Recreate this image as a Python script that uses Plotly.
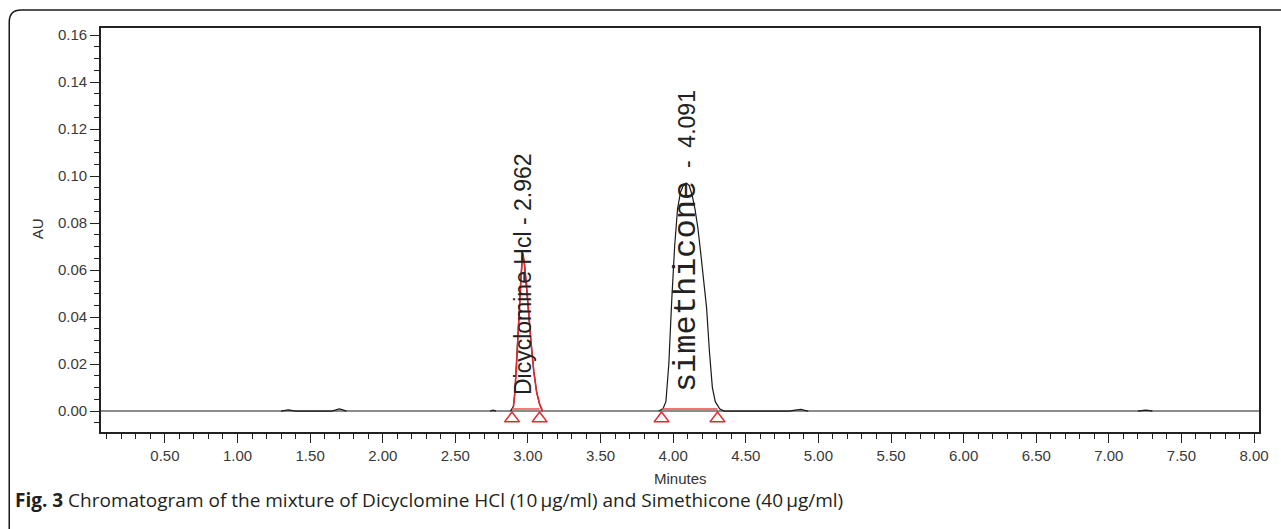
import numpy as np
import plotly.graph_objects as go

# ---------------- data ----------------
time_min = [0.06, 0.50, 1.00, 1.30, 1.33, 1.35, 1.37, 1.40, 1.65, 1.68, 1.70, 1.72, 1.75,
            2.00, 2.50, 2.74, 2.76, 2.78, 2.85,
            2.88, 2.90, 2.91, 2.92, 2.93, 2.94, 2.95, 2.96, 2.965, 2.975, 2.99, 3.00,
            3.02, 3.04, 3.06, 3.08, 3.10,
            3.50, 3.90, 3.93, 3.95, 3.97, 3.99, 4.01, 4.03, 4.05, 4.07, 4.09, 4.11,
            4.13, 4.15, 4.17, 4.19, 4.21, 4.23, 4.25, 4.27, 4.29, 4.32, 4.35,
            4.80, 4.84, 4.86, 4.88, 4.90, 4.93, 5.50, 6.50, 7.20, 7.23, 7.25, 7.27,
            7.30, 8.03]
au = [0.0, 0.0, 0.0, 0.0, 0.0003, 0.0005, 0.0003, 0.0, 0.0, 0.0006, 0.0009, 0.0006, 0.0,
      0.0, 0.0, 0.0, 0.0004, 0.0, 0.0,
      0.0, 0.002, 0.008, 0.018, 0.030, 0.043, 0.056, 0.065, 0.067, 0.063, 0.054, 0.045,
      0.030, 0.017, 0.008, 0.003, 0.0,
      0.0, 0.0, 0.001, 0.004, 0.020, 0.047, 0.070, 0.086, 0.093, 0.096, 0.097, 0.096,
      0.092, 0.086, 0.078, 0.067, 0.055, 0.044, 0.025, 0.010, 0.004, 0.001, 0.0,
      0.0, 0.0004, 0.0007, 0.0007, 0.0004, 0.0, 0.0, 0.0, 0.0, 0.0003, 0.0004, 0.0003,
      0.0, 0.0]

# integration marks (peak start / end)
peak_names = ["Dicyclomine Hcl", "simethicone"]
peak_rt = [2.962, 4.091]
peak_start = [2.89, 3.92]
peak_end = [3.08, 4.305]

x_ticks = [0.5, 1.0, 1.5, 2.0, 2.5, 3.0, 3.5, 4.0, 4.5, 5.0, 5.5, 6.0, 6.5, 7.0, 7.5, 8.0]
y_ticks = [0.00, 0.02, 0.04, 0.06, 0.08, 0.10, 0.12, 0.14, 0.16]

# ---------------- figure ----------------
W, H = 1281, 529
L, R, T, B = 101, 19, 28, 97
pw, ph = W - L - R, H - T - B
SANS = "Liberation Sans, Arial, sans-serif"


def px(xp):
    return (xp - L) / pw


def py(yp):
    return (H - B - yp) / ph


t = np.array(time_min)
a = np.array(au)
keep = a > 0.0002
keep = keep | np.roll(keep, 1) | np.roll(keep, -1)
a_plot = [v if k else None for v, k in zip(a, keep)]

fig = go.Figure()

# chromatogram signal (black)
fig.add_trace(go.Scatter(x=t, y=a_plot, mode="lines",
                         line=dict(color="#1a1a1a", width=1.2),
                         connectgaps=False, hoverinfo="skip", showlegend=False))

# first peak overlaid in red (integrated peak)
m1 = (t >= peak_start[0] - 0.01) & (t <= peak_end[0] + 0.02)
fig.add_trace(go.Scatter(x=t[m1], y=a[m1], mode="lines",
                         line=dict(color="#e8262e", width=1.6),
                         hoverinfo="skip", showlegend=False))

# integration baselines
for s, e in zip(peak_start, peak_end):
    fig.add_trace(go.Scatter(x=[s, e], y=[0.0009, 0.0009], mode="lines",
                             line=dict(color="#f0444a", width=1.4),
                             hoverinfo="skip", showlegend=False))

# start/end triangles
tri_x = peak_start + peak_end
fig.add_trace(go.Scatter(x=tri_x, y=[-0.0032] * len(tri_x), mode="markers",
                         marker=dict(symbol="triangle-up-open", size=13,
                                     color="#e8262e", line=dict(width=1.5, color="#e8262e")),
                         hoverinfo="skip", showlegend=False, cliponaxis=False))

# peak labels
fig.add_annotation(x=peak_rt[0], y=0.0585, xref="x", yref="y",
                   text=f"{peak_names[0]} - {peak_rt[0]:.3f}",
                   textangle=-90, showarrow=False, xanchor="center", yanchor="middle",
                   font=dict(family=SANS, size=23, color="#222222"))
fig.add_annotation(x=peak_rt[1], y=0.0725, xref="x", yref="y",
                   text=(f"<span style='font-family:Liberation Mono;font-size:32px'>{peak_names[1]}</span>"
                         f"\u00a0\u00a0-\u00a0\u00a0{peak_rt[1]:.3f}"),
                   textangle=-90, showarrow=False, xanchor="center", yanchor="middle",
                   font=dict(family=SANS, size=23, color="#222222"))

# axis titles
fig.add_annotation(x=0.5, y=py(478), xref="paper", yref="paper", text="Minutes",
                   showarrow=False, xanchor="center", yanchor="middle",
                   font=dict(family=SANS, size=15, color="#333333"))
fig.add_annotation(x=px(37), y=py(229), xref="paper", yref="paper", text="AU",
                   textangle=-90, showarrow=False, xanchor="center", yanchor="middle",
                   font=dict(family=SANS, size=15, color="#333333"))

# caption
fig.add_annotation(x=px(13), y=py(500), xref="paper", yref="paper",
                   text="<b>Fig. 3</b> Chromatogram of the mixture of Dicyclomine HCl (10\u2009\u00b5g/ml) "
                        "and Simethicone (40\u2009\u00b5g/ml)",
                   showarrow=False, xanchor="left", yanchor="middle",
                   font=dict(family="Open Sans", size=19, color="#231f20"))

# outer rounded frame
fig.add_shape(type="path", xref="paper", yref="paper",
              path=(f"M {px(9)},{py(545)} L {px(9)},{py(22)} "
                    f"Q {px(9)},{py(10)} {px(21)},{py(10)} L {px(1300)},{py(10)}"),
              line=dict(color="#1a1a1a", width=1.5), layer="above")

tickfont = dict(family=SANS, size=15, color="#3a3a3a")
fig.update_xaxes(range=[0.06, 8.034], tickvals=x_ticks, tickformat=".2f",
                 ticks="outside", ticklen=9, tickwidth=1.3, tickcolor="#222",
                 minor=dict(dtick=0.1, tick0=0, ticks="outside", ticklen=5, tickwidth=1.2,
                            tickcolor="#222", showgrid=False),
                 showline=True, linecolor="#222", linewidth=1.6, mirror=True,
                 showgrid=False, zeroline=False, tickfont=tickfont)
fig.update_yaxes(range=[-0.0089, 0.163], tickvals=y_ticks, tickformat=".2f",
                 ticks="outside", ticklen=9, tickwidth=1.3, tickcolor="#222",
                 minor=dict(dtick=0.005, tick0=0, ticks="outside", ticklen=5, tickwidth=1.2,
                            tickcolor="#222", showgrid=False),
                 showline=True, linecolor="#222", linewidth=1.6, mirror=True,
                 showgrid=False, zeroline=True, zerolinecolor="#8c8c8c", zerolinewidth=2.2,
                 tickfont=tickfont)

fig.update_layout(width=W, height=H, autosize=False,
                  margin=dict(l=L, r=R, t=T, b=B, pad=0),
                  font=dict(family=SANS),
                  paper_bgcolor="white", plot_bgcolor="white", showlegend=False)

fig.write_html("out.html")
